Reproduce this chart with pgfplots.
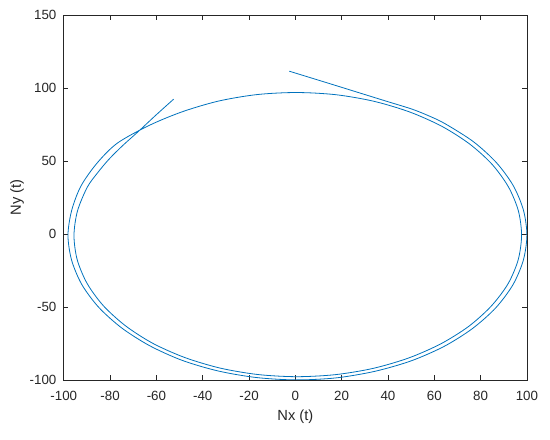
\documentclass[border=0pt]{standalone}
\usepackage{fontspec}
\setmainfont{Liberation Sans}
\usepackage{pgfplots}
\pgfplotsset{compat=1.18}
\definecolor{mlblue}{RGB}{0,114,189}
\definecolor{mlaxis}{RGB}{38,38,38}
\begin{document}
\begin{tikzpicture}
\begin{axis}[
    scale only axis,
    width=347pt, height=273.4pt,
    xmin=-100, xmax=100, ymin=-100, ymax=150,
    xtick={-100,-80,...,100},
    ytick={-100,-50,...,150},
    tick align=inside,
    major tick length=3.5pt,
    axis line style={mlaxis, line width=0.5pt},
    every tick/.style={mlaxis, line width=0.5pt},
    /pgf/number format/assume math mode=true,
    ticklabel style={font=\fontsize{10}{12}\selectfont, text=mlaxis},
    yticklabel style={xshift=-2pt},
    xticklabel style={yshift=-5pt},
    xlabel={Nx (t)}, ylabel={Ny (t)},
    label style={font=\fontsize{11}{13}\selectfont, text=mlaxis},
    xlabel style={at={(axis description cs:0.5,-0.1)}, anchor=center},
    ylabel style={at={(axis description cs:-0.101,0.5)}, anchor=center},
]
% trajectory (Nx(t), Ny(t))
\addplot[mlblue, line width=0.6pt, smooth, tension=0.5] coordinates {
(-52.6,92.3) (-60.3,81.3) (-67.8,70.2) (-74.6,60.5)
(-80.6,51.0) (-85.6,41.5) (-89.9,31.9) (-94.1,15.7) (-95.6,-1.0)
(-94.2,-17.7) (-89.9,-34.0) (-82.9,-49.2) (-73.3,-63.0) (-61.5,-75.0)
(-47.7,-84.7) (-32.5,-91.9) (-16.3,-96.3) (0.5,-97.8) (17.3,-96.4)
(33.6,-92.1) (48.9,-85.0) (62.8,-75.3) (74.8,-63.4) (84.5,-49.6)
(91.8,-34.3) (96.2,-17.9) (97.7,-1.0) (96.3,15.9) (92.0,32.3)
(84.9,47.8) (75.2,61.7) (63.2,73.8) (49.3,83.6) (33.9,90.9)
(17.5,95.4) (0.5,96.9) (-16.5,95.5) (-33.0,91.1) (-48.5,83.9)
(-62.8,74.6) (-76.8,62.3) (-85.6,48.6) (-92.6,32.8) (-96.6,16.1)
(-98.2,-1.0) (-96.6,-18.1) (-92.2,-34.7) (-84.9,-50.3) (-75.0,-64.4)
(-62.9,-76.6) (-48.9,-86.6) (-33.3,-93.9) (-16.7,-98.4) (0.5,-100.0)
(17.7,-98.6) (34.4,-94.1) (50.1,-86.9) (64.3,-77.0) (76.5,-64.8)
(86.5,-50.7) (93.9,-35.0) (98.4,-18.3) (100.0,-1.0) (98.5,16.3)
(94.1,33.1) (86.8,48.9) (76.9,63.2) (64.7,75.5) (57.8,80.8)
(50.4,85.5) (40.0,90.6) (28.0,96.5) (14.0,103.4) (-2.6,111.5)
};
\end{axis}
\pgfresetboundingbox
\path[use as bounding box] ([shift={(-47.8pt,-44.6pt)}]current axis.south west)
    rectangle ([shift={(17.3pt,11.25pt)}]current axis.north east);
\end{tikzpicture}
\end{document}
